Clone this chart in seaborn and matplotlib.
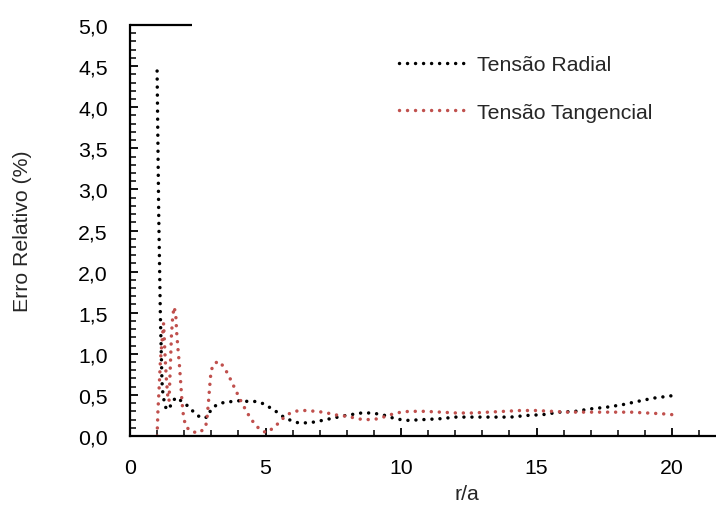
import matplotlib
matplotlib.use("Agg")
import matplotlib.pyplot as plt
import matplotlib.ticker as mticker
import seaborn as sns
import pandas as pd

# ---- data ----
radial_x = [1.0, 1.06, 1.12, 1.18, 1.22, 1.31, 1.45, 1.53, 1.71, 1.96, 2.19, 2.38, 2.62, 2.88,
            2.98, 3.2, 3.48, 3.78, 4.07, 4.36, 4.65, 4.95, 5.19, 5.43, 5.67, 5.93, 6.21, 6.51,
            6.8, 7.1, 7.38, 7.96, 8.54, 8.82, 9.12, 9.41, 9.69, 9.98, 10.27, 10.85, 11.43,
            12.02, 12.6, 13.47, 14.05, 14.65, 15.24, 15.83, 16.43, 16.99, 17.58, 18.16, 18.72,
            19.3, 20.0]
radial_y = [4.44, 2.69, 1.47, 0.66, 0.49, 0.35, 0.32, 0.41, 0.47, 0.41, 0.35, 0.28, 0.22, 0.23,
            0.32, 0.38, 0.41, 0.42, 0.43, 0.42, 0.42, 0.39, 0.34, 0.29, 0.23, 0.19, 0.16, 0.16,
            0.17, 0.19, 0.21, 0.25, 0.28, 0.28, 0.27, 0.25, 0.22, 0.20, 0.19, 0.20, 0.21,
            0.23, 0.23, 0.23, 0.23, 0.25, 0.26, 0.29, 0.30, 0.33, 0.35, 0.38, 0.42,
            0.46, 0.49]

tang_x = [1.0, 1.03, 1.07, 1.12, 1.18, 1.24, 1.29, 1.34, 1.39, 1.44, 1.49, 1.53, 1.58, 1.63,
          1.69, 1.72, 1.77, 1.82, 1.86, 1.92, 1.98, 2.07, 2.29, 2.57, 2.79, 2.84, 2.89, 2.94,
          2.99, 3.09, 3.29, 3.46, 3.62, 3.88, 4.13, 4.42, 4.59, 4.79, 5.03, 5.3, 5.52, 5.72,
          5.97, 6.25, 6.55, 6.84, 7.12, 7.42, 7.7, 8.0, 8.28, 8.58, 8.87, 9.17, 9.44, 9.72,
          10.0, 10.3, 10.89, 11.47, 12.05, 12.63, 13.22, 13.81, 14.4, 14.99, 15.58, 16.15,
          17.03, 17.92, 18.5, 19.08, 19.66, 20.0]
tang_y = [0.0, 0.3, 0.55, 0.9, 1.15, 1.37, 1.0, 0.7, 0.5, 0.42, 0.86, 1.23, 1.47, 1.57,
          1.47, 1.27, 1.06, 0.88, 0.70, 0.41, 0.22, 0.11, 0.05, 0.04, 0.11, 0.21, 0.39, 0.60,
          0.79, 0.88, 0.91, 0.84, 0.75, 0.57, 0.40, 0.23, 0.15, 0.08, 0.04, 0.10, 0.17, 0.24,
          0.29, 0.31, 0.31, 0.30, 0.29, 0.27, 0.25, 0.24, 0.22, 0.20, 0.20, 0.21, 0.24, 0.27,
          0.29, 0.30, 0.30, 0.29, 0.28, 0.28, 0.29, 0.30, 0.31, 0.31, 0.30, 0.29,
          0.29, 0.29, 0.29, 0.28, 0.27, 0.26]

series_names = ["Tensão Radial", "Tensão Tangencial"]
series_colors = ["#000000", "#C0504D"]
x_ticks = [0, 5, 10, 15, 20]
y_ticks = [0.0, 0.5, 1.0, 1.5, 2.0, 2.5, 3.0, 3.5, 4.0, 4.5, 5.0]

sns.set_style("ticks")
plt.rcParams["font.family"] = ["Liberation Sans", "DejaVu Sans"]
FS = 15.3

fig = plt.figure(figsize=(7.16, 5.06), dpi=100)
W, H = 716, 506
AX_W = 677.5
ax = fig.add_axes([130 / W, (H - 437) / H, AX_W / W, (437 - 26) / H])

dots = (0, (0.01, 2.3))
for xs, ys, name, col in [(radial_x, radial_y, series_names[0], series_colors[0]),
                          (tang_x, tang_y, series_names[1], series_colors[1])]:
    df = pd.DataFrame({"x": xs, "y": ys})
    sns.lineplot(data=df, x="x", y="y", ax=ax, color=col, sort=False, estimator=None,
                 linewidth=2.5, linestyle=dots, dash_capstyle="round", label=name)

ax.set_xlim(0, 25)
ax.set_ylim(0, 5.0)
ax.set_xticks(x_ticks)
ax.set_yticks(y_ticks)
ax.xaxis.set_minor_locator(mticker.MultipleLocator(1))
ax.yaxis.set_minor_locator(mticker.MultipleLocator(0.1))
ax.yaxis.set_major_formatter(mticker.FuncFormatter(lambda v, p: f"{v:.1f}".replace(".", ",")))
ax.xaxis.set_major_formatter(mticker.FuncFormatter(lambda v, p: f"{v:.0f}"))

for s in ["top", "right"]:
    ax.spines[s].set_visible(False)
for s in ["left", "bottom"]:
    ax.spines[s].set_linewidth(1.6)
    ax.spines[s].set_color("black")

ax.tick_params(axis="both", which="major", direction="in", length=6, width=1.3,
               labelsize=FS, colors="black")
ax.tick_params(axis="both", which="minor", direction="in", length=4, width=1.1, colors="black")
ax.tick_params(axis="y", which="major", pad=16)
ax.tick_params(axis="x", which="major", pad=16)

# short top border segment at the top of the value axis
ax.plot([0, 2.3], [5.0, 5.0], color="black", linewidth=1.6, clip_on=False,
        solid_capstyle="butt")

ax.set_xlabel("r/a", fontsize=FS)
ax.set_ylabel("Erro Relativo (%)", fontsize=FS)
ax.xaxis.set_label_coords((467 - 130) / AX_W, -(495 - 437) / 411.0)
ax.xaxis.label.set_va("center")
ax.yaxis.set_label_coords((23 - 130) / AX_W, 0.5)
ax.yaxis.label.set_va("center")

leg = ax.legend(loc="upper left", bbox_to_anchor=(399 / W, (H - 56) / H),
                bbox_transform=fig.transFigure, frameon=False, fontsize=FS,
                handlelength=3.2, handletextpad=0.45, labelspacing=1.35, borderaxespad=0,
                borderpad=0)

fig.savefig("out.png", dpi=100)
